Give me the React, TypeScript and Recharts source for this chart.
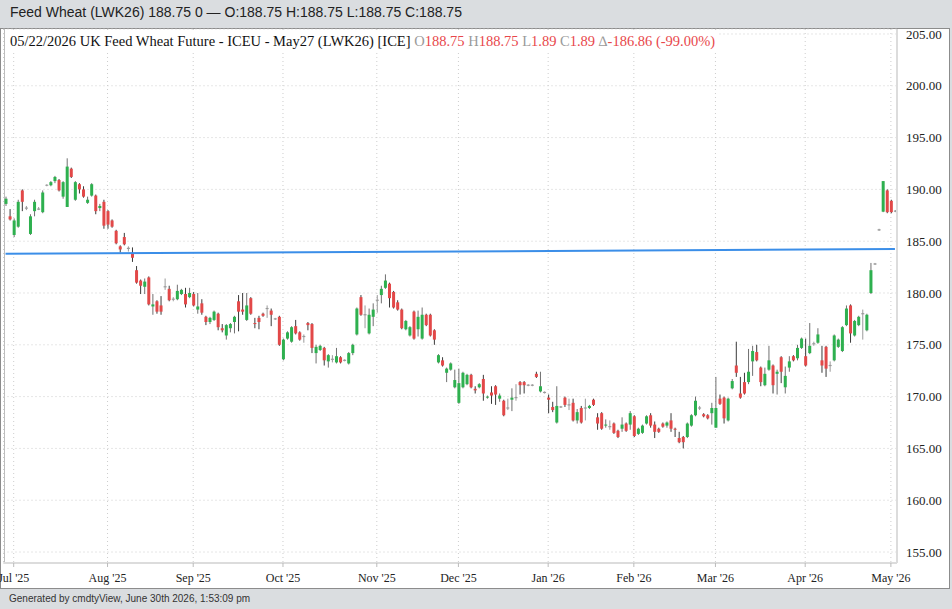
import React from 'react';
import { ComposedChart, Bar, XAxis, YAxis, CartesianGrid, ReferenceLine } from 'recharts';

// daily OHLC, Jun 27 2025 .. early May 2026 (one entry per trading day)
const openValues = [
  188.6, 187.4, 185.6, 186.4, 189.9, 188.2, 185.7, 187.9, 188.1, 187.8,
  190.4, 190.4, 190.8, 190.9, 189.3, 188.3, 192.0, 189.0, 190.5, 190.0,
  188.7, 189.4, 189.4, 188.2, 188.8, 187.9, 187.0, 186.0, 184.5, 185.4,
  184.3, 183.8, 182.2, 181.2, 180.6, 181.5, 178.7, 179.2, 178.8, 180.6,
  180.4, 179.4, 179.4, 179.9, 179.9, 179.6, 179.9, 178.4, 179.0, 177.7,
  177.2, 177.4, 178.0, 176.6, 175.9, 176.6, 177.2, 179.2, 178.4, 177.4,
  179.5, 177.1, 177.6, 178.0, 178.5, 178.3, 177.5, 177.7, 173.6, 175.6,
  175.3, 176.8, 176.2, 175.8, 177.1, 177.0, 174.2, 174.5, 174.7, 173.4,
  173.6, 173.3, 173.8, 173.5, 173.2, 174.2, 176.0, 179.6, 177.9, 176.1,
  177.7, 179.3, 179.8, 180.5, 180.9, 180.1, 179.1, 178.4, 176.5, 175.9,
  178.2, 176.5, 175.6, 177.9, 177.9, 176.4, 173.3, 173.5, 172.3, 172.6,
  170.9, 169.4, 170.9, 171.2, 172.1, 170.75, 170.9, 171.7, 169.9, 170.4,
  171.0, 169.8, 169.6, 168.9, 169.7, 169.9, 171.4, 171.4, 171.1, 171.1,
  172.2, 170.5, 170.4, 169.9, 169.0, 167.5, 169.0, 169.9, 169.2, 169.4,
  167.7, 168.9, 168.9, 168.9, 169.7, 168.0, 168.4, 167.2, 167.1, 167.4,
  166.7, 166.9, 167.4, 167.3, 168.1, 166.4, 166.5, 167.4, 168.2, 167.3,
  166.9, 167.4, 167.2, 167.7, 166.9, 166.0, 166.1, 166.1, 167.2, 168.2,
  168.9, 168.3, 168.2, 168.4, 167.0, 169.8, 169.9, 167.7, 170.8, 173.0,
  170.3, 171.4, 171.4, 173.4, 174.3, 172.8, 171.1, 172.6, 173.0, 172.2,
  173.8, 170.9, 172.8, 173.9, 173.7, 174.7, 173.9, 174.2, 175.1, 175.2,
  173.5, 174.8, 173.0, 173.5, 174.8, 174.4, 176.9, 178.8, 175.9, 176.9,
  178.0, 176.4, 180.0, 182.8, 186.1, 187.85, 189.9, 188.9, 187.9,
];

const highValues = [
  189.3, 188.1, 187.2, 189.0, 190.0, 188.4, 187.6, 189.0, 188.3, 189.9,
  190.5, 190.8, 191.3, 191.0, 190.8, 193.0, 192.1, 190.8, 190.6, 190.3,
  189.3, 190.6, 189.5, 188.6, 189.0, 188.0, 187.1, 186.1, 184.6, 185.8,
  184.5, 184.4, 182.6, 181.3, 181.4, 181.6, 179.9, 179.3, 179.7, 181.4,
  180.7, 179.6, 180.8, 180.4, 180.5, 180.5, 180.1, 180.0, 179.4, 177.8,
  177.7, 178.3, 178.1, 177.0, 177.0, 177.1, 177.8, 179.8, 180.0, 180.0,
  179.6, 177.6, 177.8, 178.1, 178.8, 178.5, 177.6, 177.8, 175.6, 176.3,
  176.8, 177.4, 176.3, 176.0, 177.2, 177.1, 175.0, 175.0, 174.8, 174.1,
  174.0, 174.7, 173.9, 173.6, 174.3, 175.1, 178.6, 179.8, 178.8, 178.5,
  179.0, 179.8, 180.7, 181.8, 181.0, 180.2, 179.3, 178.5, 177.4, 176.8,
  178.3, 178.3, 178.6, 178.0, 178.0, 176.5, 174.1, 173.8, 172.8, 173.3,
  172.6, 172.7, 172.4, 172.2, 172.2, 171.0, 171.3, 172.1, 170.1, 171.0,
  171.1, 170.3, 169.7, 169.8, 170.8, 171.2, 171.5, 171.5, 171.2, 171.2,
  172.4, 172.4, 170.5, 170.2, 169.5, 171.0, 169.1, 170.0, 169.8, 169.8,
  168.8, 169.1, 169.8, 169.2, 169.8, 168.4, 168.5, 167.8, 167.7, 167.5,
  166.8, 168.0, 167.5, 168.6, 168.2, 167.0, 167.3, 168.2, 168.4, 167.6,
  167.0, 167.5, 167.6, 168.4, 167.0, 166.6, 166.2, 167.5, 168.3, 170.0,
  169.1, 168.4, 168.3, 169.4, 171.9, 170.2, 170.0, 169.9, 171.7, 175.3,
  171.9, 172.3, 174.6, 174.9, 175.0, 172.9, 172.8, 174.9, 173.1, 172.6,
  173.9, 172.9, 173.9, 174.0, 175.0, 175.7, 175.6, 177.1, 175.3, 176.6,
  174.9, 174.9, 173.4, 176.0, 175.6, 176.8, 178.8, 178.9, 177.4, 177.8,
  178.4, 178.0, 182.9, 182.9, 186.2, 190.8, 190.0, 189.0, 188.0,
];

const lowValues = [
  188.4, 187.0, 185.4, 186.3, 187.9, 188.0, 185.6, 187.4, 188.0, 187.7,
  190.3, 190.3, 190.6, 189.8, 189.1, 188.3, 191.1, 188.9, 189.6, 189.2,
  188.6, 189.3, 187.6, 187.9, 186.2, 186.2, 186.3, 184.7, 183.9, 184.6,
  184.0, 183.0, 180.9, 179.9, 179.9, 178.8, 177.9, 178.0, 177.9, 180.3,
  179.2, 179.2, 179.3, 179.8, 178.6, 179.5, 178.7, 178.0, 177.9, 176.9,
  177.0, 177.3, 176.4, 176.2, 175.5, 176.2, 176.1, 176.3, 177.9, 177.3,
  177.9, 176.6, 176.5, 177.7, 177.6, 176.8, 177.4, 174.9, 173.5, 175.5,
  175.2, 176.0, 175.4, 175.2, 176.4, 174.2, 173.2, 174.4, 173.0, 172.8,
  173.3, 173.2, 173.2, 173.4, 173.1, 174.0, 175.9, 177.8, 176.6, 176.0,
  176.8, 178.1, 179.0, 180.4, 178.6, 178.5, 178.3, 176.5, 176.4, 175.8,
  175.5, 175.8, 175.5, 176.8, 175.8, 175.0, 173.2, 172.9, 171.4, 172.5,
  170.8, 169.3, 170.8, 171.1, 170.8, 170.3, 170.8, 169.6, 169.8, 169.3,
  169.2, 169.5, 168.1, 168.7, 168.6, 169.6, 170.2, 170.3, 171.0, 171.0,
  171.8, 170.4, 170.3, 168.4, 168.5, 167.4, 168.9, 169.0, 168.7, 167.6,
  167.4, 167.4, 167.7, 168.8, 169.1, 166.8, 166.8, 167.0, 166.8, 166.4,
  166.0, 166.6, 166.6, 166.8, 166.1, 166.3, 166.4, 167.3, 167.0, 166.0,
  166.5, 167.0, 167.0, 166.6, 166.1, 165.5, 165.0, 166.0, 167.1, 168.1,
  168.7, 168.0, 167.8, 167.3, 167.0, 169.2, 167.4, 167.6, 170.7, 171.9,
  169.8, 170.2, 171.2, 172.0, 173.4, 171.0, 171.0, 172.5, 170.3, 170.2,
  171.3, 170.3, 172.4, 173.4, 173.5, 174.6, 172.9, 174.1, 174.9, 175.1,
  172.3, 171.9, 172.4, 173.4, 174.7, 174.3, 176.8, 175.2, 175.8, 176.8,
  175.5, 176.3, 179.9, 182.7, 186.0, 187.8, 187.7, 187.7, 187.8,
];

const closeValues = [
  189.1, 187.1, 187.0, 188.8, 188.8, 188.2, 187.4, 188.8, 188.1, 189.7,
  190.4, 190.7, 191.2, 189.9, 190.7, 192.2, 191.2, 190.7, 190.0, 189.3,
  189.0, 190.5, 187.9, 188.4, 186.5, 186.6, 186.4, 184.8, 184.2, 184.7,
  184.3, 183.4, 181.0, 180.7, 181.1, 178.9, 178.9, 178.2, 178.2, 180.6,
  179.3, 179.4, 180.2, 180.3, 178.9, 180.0, 178.8, 178.7, 178.1, 177.2,
  177.6, 178.2, 176.7, 176.4, 176.9, 177.0, 177.7, 178.2, 178.2, 178.8,
  178.0, 177.0, 177.2, 177.8, 178.5, 177.9, 177.5, 175.0, 175.5, 176.2,
  176.7, 176.1, 175.5, 175.8, 176.9, 174.7, 174.8, 174.9, 173.5, 174.0,
  173.6, 173.9, 173.3, 173.5, 174.2, 175.0, 178.5, 177.9, 177.9, 177.9,
  178.4, 179.3, 180.4, 181.2, 179.5, 178.6, 178.4, 176.6, 177.3, 176.7,
  175.6, 177.7, 177.9, 176.9, 175.9, 175.5, 174.0, 173.0, 172.7, 173.2,
  171.6, 171.3, 172.3, 172.1, 170.9, 170.6, 171.2, 170.3, 170.0, 170.1,
  170.2, 170.1, 168.2, 168.9, 169.9, 169.9, 171.1, 171.1, 171.1, 171.1,
  171.9, 171.0, 170.4, 169.7, 168.7, 169.1, 169.0, 169.2, 169.2, 167.7,
  168.5, 167.5, 168.9, 169.1, 169.2, 167.4, 166.9, 167.3, 167.1, 166.5,
  166.1, 167.3, 166.7, 168.4, 166.2, 166.9, 167.2, 168.1, 167.2, 166.6,
  166.6, 167.1, 167.5, 166.9, 166.8, 165.6, 165.6, 167.4, 168.2, 169.6,
  168.9, 168.1, 167.9, 168.9, 168.9, 169.3, 167.9, 169.8, 171.5, 172.3,
  169.9, 170.3, 172.4, 174.4, 173.5, 171.4, 172.2, 173.5, 171.1, 172.4,
  172.4, 172.0, 173.4, 173.5, 174.7, 175.6, 173.0, 174.9, 175.1, 176.0,
  173.0, 172.7, 173.0, 175.9, 175.5, 176.7, 178.5, 176.1, 177.3, 177.7,
  178.0, 177.9, 182.2, 182.8, 186.1, 190.8, 187.8, 187.8, 187.9,
];

// first trading day of each month (index into the series) and its label
const tickIndex = [2, 25, 46, 68, 91, 111, 133, 154, 174, 196, 217];
const tickLabels = ["Jul '25", "Aug '25", "Sep '25", "Oct '25", "Nov '25", "Dec '25", "Jan '26", "Feb '26", "Mar '26", "Apr '26", "May '26"];
const priceTicks = [155, 160, 165, 170, 175, 180, 185, 190, 195, 200, 205];

// blue trend line, start / end price
const trendStart = 183.78;
const trendEnd = 184.24;

const UP = '#2eb04f';
const DOWN = '#e24848';
const DOJI = '#9a9a9a';
const SERIF = "'Liberation Serif', 'Times New Roman', serif";
const SANS = "'Liberation Sans', Arial, sans-serif";

const data = closeValues.map((close, i) => ({
  idx: i,
  open: openValues[i],
  high: highValues[i],
  low: lowValues[i],
  close,
}));

function Candle(props: any) {
  const { x, y, width, height, payload } = props;
  if (!payload || x == null || y == null) return null;
  const { open, high, low, close } = payload;
  const top = height < 0 ? y + height : y;
  const span = Math.abs(height);
  const unit = high > low ? span / (high - low) : 0;
  const py = (v: number) => top + (high - v) * unit;
  const cx = x + width / 2;
  const doji = open === close;
  const up = close > open;
  const wick = doji ? DOJI : up ? '#707070' : '#3a3a3a';
  const bTop = py(Math.max(open, close));
  const bBot = py(Math.min(open, close));
  return (
    <g>
      <line x1={cx} x2={cx} y1={top} y2={top + span} stroke={wick} strokeWidth={1} />
      {doji ? (
        <line x1={x} x2={x + width} y1={bTop} y2={bTop} stroke={DOJI} strokeWidth={1.2} />
      ) : (
        <rect x={x} y={bTop} width={width} height={Math.max(1, bBot - bTop)} fill={up ? UP : DOWN} />
      )}
    </g>
  );
}

export default function App() {
  return (
    <div style={{ position: 'absolute', left: 0, top: 0, width: 952, height: 609, background: '#dadde0', overflow: 'hidden' }}>
      <div style={{ position: 'absolute', left: 10, top: 3, fontFamily: SANS, fontSize: 14, lineHeight: '18px', color: '#222', whiteSpace: 'nowrap' }}>
        Feed Wheat (LWK26) 188.75 0 — O:188.75 H:188.75 L:188.75 C:188.75
      </div>
      <div style={{ position: 'absolute', left: 0, top: 28, width: 950, height: 561, boxSizing: 'border-box', border: '1px solid #8c8c8c', background: '#fff' }} />
      <div style={{ position: 'absolute', left: 4, top: 29, width: 1, height: 534, background: '#bdbdbd' }} />
      <div style={{ position: 'absolute', left: 0, top: 0 }}>
        <ComposedChart width={952} height={609} data={data} margin={{ top: 29, right: 0, bottom: 24, left: 3.5 }}>
          <CartesianGrid stroke='#cdcdcd' strokeDasharray='1 3' />
          <XAxis
            dataKey='idx'
            type='category'
            ticks={tickIndex}
            interval={0}
            tickFormatter={(v) => tickLabels[tickIndex.indexOf(v)]}
            height={22}
            tickSize={4}
            tickMargin={6}
            axisLine={{ stroke: '#dcdcdc', strokeWidth: 2 }}
            tickLine={{ stroke: '#bbbbbb' }}
            tick={{ fill: '#222', fontSize: 12, fontFamily: SERIF }}
          />
          <YAxis
            orientation='right'
            type='number'
            domain={[153.94, 205.48]}
            ticks={priceTicks}
            allowDataOverflow
            width={55}
            tickLine={false}
            tickMargin={3}
            tickFormatter={(v) => Number(v).toFixed(2)}
            axisLine={{ stroke: '#dcdcdc', strokeWidth: 2 }}
            tick={{ fill: '#222', fontSize: 13, fontFamily: SERIF }}
          />
          <Bar
            dataKey={(d: any) => [d.low, d.high]}
            barSize={3}
            shape={(p: any) => <Candle {...p} />}
            isAnimationActive={false}
          />
          <ReferenceLine
            segment={[{ x: 0, y: trendStart }, { x: data.length - 1, y: trendEnd }]}
            stroke='#3b8ee8'
            strokeWidth={2}
          />
        </ComposedChart>
      </div>
      <div style={{ position: 'absolute', left: 6, top: 31, height: 20, paddingLeft: 4, paddingRight: 4, background: '#fff', fontFamily: SERIF, fontSize: 14.5, lineHeight: '20px', color: '#111', whiteSpace: 'nowrap' }}>
        05/22/2026 UK Feed Wheat Future - ICEU - May27 (LWK26) [ICE]{' '}
        <span style={{ color: '#9a9a9a' }}>O</span><span style={{ color: '#e8474b' }}>188.75</span>{' '}
        <span style={{ color: '#9a9a9a' }}>H</span><span style={{ color: '#e8474b' }}>188.75</span>{' '}
        <span style={{ color: '#9a9a9a' }}>L</span><span style={{ color: '#e8474b' }}>1.89</span>{' '}
        <span style={{ color: '#9a9a9a' }}>C</span><span style={{ color: '#e8474b' }}>1.89</span>{' '}
        <span style={{ color: '#9a9a9a' }}>∆</span><span style={{ color: '#e8474b' }}>-186.86 (-99.00%)</span>
      </div>
      <div style={{ position: 'absolute', left: 9, top: 592, fontFamily: SANS, fontSize: 10, lineHeight: '14px', color: '#333', whiteSpace: 'nowrap' }}>
        Generated by cmdtyView, June 30th 2026, 1:53:09 pm
      </div>
    </div>
  );
}
